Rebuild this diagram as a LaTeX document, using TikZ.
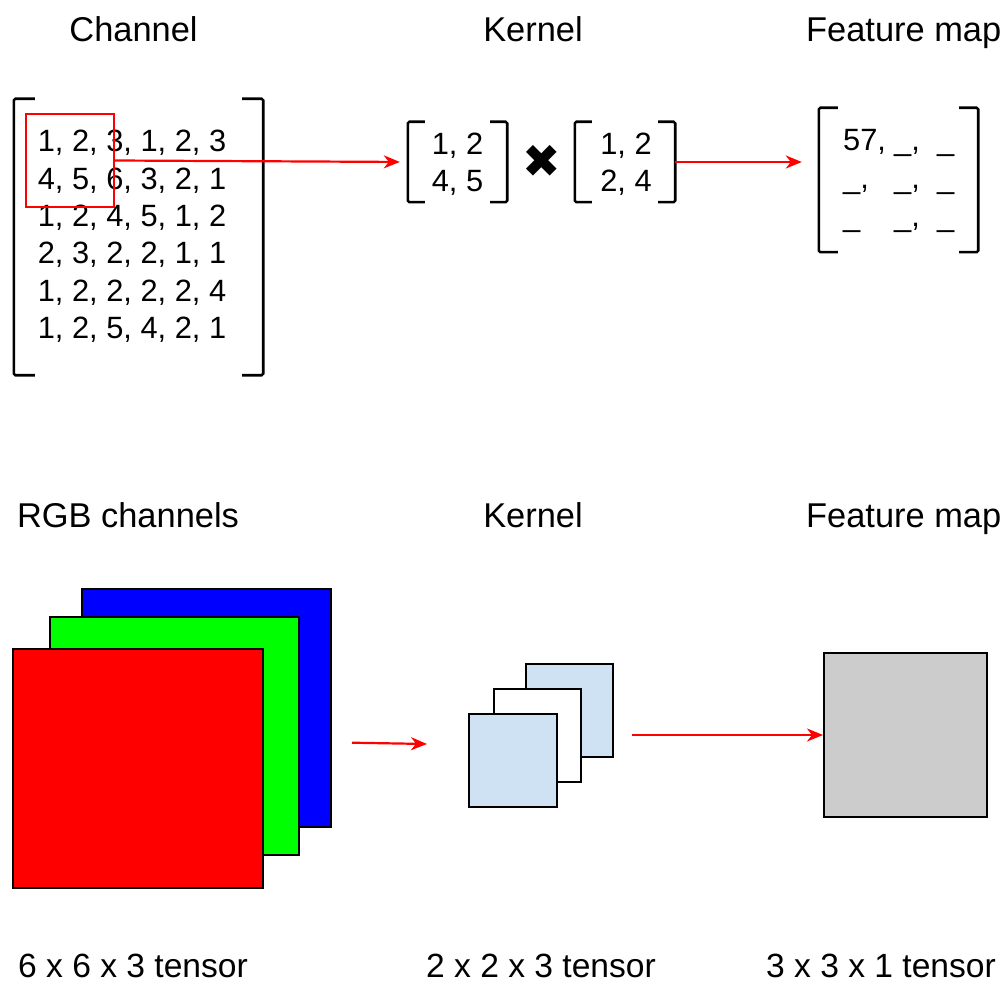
\documentclass[tikz,border=0pt]{standalone}
\usepackage{fontspec}
\setmainfont{Liberation Sans}
\newfontfamily\symfont{DejaVu Sans}
\usetikzlibrary{arrows.meta}
\definecolor{sqred}{RGB}{255,0,0}
\definecolor{sqgreen}{RGB}{0,255,0}
\definecolor{sqblue}{RGB}{0,0,255}
\definecolor{kblue}{RGB}{207,226,243}
\definecolor{fmgray}{RGB}{204,204,204}
\tikzset{
  title/.style={font=\fontsize{34.4pt}{40pt}\selectfont, inner sep=0pt},
  label/.style={font=\fontsize{33.6pt}{40pt}\selectfont, inner sep=0pt},
  num/.style={font=\fontsize{30.8pt}{36pt}\selectfont, inner sep=0pt},
  brk/.style={line width=2.6pt, rounded corners=1.5pt},
  area/.style={draw=none, inner sep=0pt, minimum width=#1},
  arr/.style={draw=red, line width=2.2pt, -{Stealth[length=16pt, width=13pt, inset=5pt]}},
  sheet/.style={draw=black, line width=2pt, inner sep=0pt},
}
% bracket pair around a named node; #2 = serif length
\newcommand\bracketpair[2]{%
  \draw[brk] ([xshift=#2]#1.north west) -- (#1.north west) -- (#1.south west) -- ([xshift=#2]#1.south west);
  \draw[brk] ([xshift=-#2]#1.north east) -- (#1.north east) -- (#1.south east) -- ([xshift=-#2]#1.south east);}
\begin{document}
\begin{tikzpicture}[x=1pt, y=-1pt]
\useasboundingbox (0,0) rectangle (1005,987);

% ---- titles ----
\node[title, anchor=base] (tchan) at (133.5,42) {Channel};
\node[title, anchor=base] (tker) at (533,42) {Kernel};
\node[title, anchor=base west] (tfm) at (806,42) {Feature map};
\node[title, anchor=base] (trgb) at (128,527) {RGB channels};
\node[title, anchor=base] (tker2) at (533,527) {Kernel};
\node[title, anchor=base west] (tfm2) at (806,527) {Feature map};

% ---- input channel matrix ----
\node[area=249pt, minimum height=276pt] (chan) at (138.5,237) {};
\bracketpair{chan}{21pt}
\node[num, anchor=base] (r1) at (132,152) {1, 2, 3, 1, 2, 3};
\node[num, anchor=base] (r2) at (132,189.3) {4, 5, 6, 3, 2, 1};
\node[num, anchor=base] (r3) at (132,226.6) {1, 2, 4, 5, 1, 2};
\node[num, anchor=base] (r4) at (132,263.9) {2, 3, 2, 2, 1, 1};
\node[num, anchor=base] (r5) at (132,301.2) {1, 2, 2, 2, 2, 4};
\node[num, anchor=base] (r6) at (132,338.5) {1, 2, 5, 4, 2, 1};
% sliding window
\node[draw=red, line width=2pt, minimum width=88pt, minimum height=93pt, inner sep=0pt] (win) at (70,160.5) {};

% ---- window patch and kernel ----
\node[area=99pt, minimum height=80pt] (k1) at (457.5,162) {};
\bracketpair{k1}{17pt}
\node[num, anchor=base] (k1a) at (457.5,155) {1, 2};
\node[num, anchor=base] (k1b) at (457.5,192) {4, 5};

\node[inner sep=0pt, font=\symfont\fontsize{46pt}{50pt}\selectfont] (times) at (542,161) {✖};

\node[area=100pt, minimum height=80pt] (k2) at (625,162) {};
\bracketpair{k2}{17pt}
\node[num, anchor=base] (k2a) at (626,155) {1, 2};
\node[num, anchor=base] (k2b) at (626,192) {2, 4};

% ---- output feature map ----
\node[area=159pt, minimum height=144pt] (fm) at (898.5,180) {};
\bracketpair{fm}{19pt}
\node[num, anchor=base west] (f11) at (843,151) {57,};
\node[num, anchor=base west] (f12) at (894,151) {\_,};
\node[num, anchor=base west] (f13) at (937,151) {\_};
\node[num, anchor=base west] (f21) at (843,189) {\_,};
\node[num, anchor=base west] (f22) at (894,189) {\_,};
\node[num, anchor=base west] (f23) at (937,189) {\_};
\node[num, anchor=base west] (f31) at (843,227) {\_};
\node[num, anchor=base west] (f32) at (894,227) {\_,};
\node[num, anchor=base west] (f33) at (937,227) {\_};

% top connectors
\draw[arr, shorten >=8pt] (win.east) -- (k1.west);
\draw[arr, shorten >=17pt] (k2.east) -- (k2.east -| fm.west);

% ---- RGB input tensor ----
\node[sheet, fill=sqblue, minimum width=249pt, minimum height=238pt] (sb) at (206.5,708) {};
\node[sheet, fill=sqgreen, minimum width=249pt, minimum height=238pt] (sg) at (174.5,736) {};
\node[sheet, fill=sqred, minimum width=250pt, minimum height=239pt] (sr) at (138,768.5) {};

% ---- kernel tensor ----
\node[sheet, fill=kblue, minimum width=87pt, minimum height=93pt] (kb3) at (569.5,710.5) {};
\node[sheet, fill=white, minimum width=87pt, minimum height=93pt] (kb2) at (537.5,735.5) {};
\node[sheet, fill=kblue, minimum width=88pt, minimum height=93pt] (kb1) at (513,760.5) {};

% ---- output map ----
\node[sheet, fill=fmgray, minimum width=163pt, minimum height=164pt] (out) at (905.5,735) {};

% bottom connectors
\coordinate (a1s) at (352,742.7);
\coordinate (a1e) at (427,744);
\coordinate (a2s) at (632,735);
\draw[arr] (a1s) -- (a1e);
\draw[arr] (a2s) -- (out.west);

% ---- shape labels ----
\node[label, anchor=base] (l1) at (133,977) {6 x 6 x 3 tensor};
\node[label, anchor=base] (l2) at (541,977) {2 x 2 x 3 tensor};
\node[label, anchor=base] (l3) at (881,977) {3 x 3 x 1 tensor};
\end{tikzpicture}
\end{document}
